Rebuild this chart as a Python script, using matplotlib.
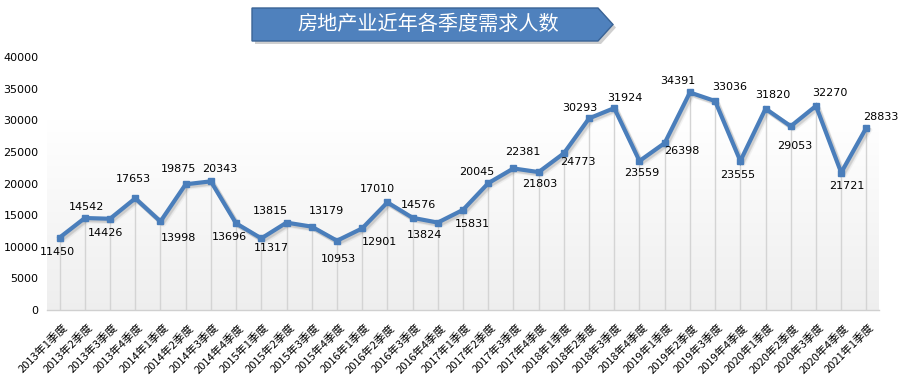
import numpy as np
import matplotlib
matplotlib.use("Agg")
import matplotlib.pyplot as plt
from matplotlib.patches import Polygon
from matplotlib.transforms import ScaledTranslation, offset_copy

# ==============================
# DATA
# ==============================

title = "房地产业近年各季度需求人数"

years = [2013] * 4 + [2014] * 4 + [2015] * 4 + [2016] * 4 + [2017] * 4 \
    + [2018] * 4 + [2019] * 4 + [2020] * 4 + [2021]
quarters = [1, 2, 3, 4] * 8 + [1]
quarter_labels = [f"{y}年{q}季度" for y, q in zip(years, quarters)]

demand = [11450, 14542, 14426, 17653, 13998, 19875, 20343, 13696,
          11317, 13815, 13179, 10953, 12901, 17010, 14576, 13824,
          15831, 20045, 22381, 21803, 24773, 30293, 31924, 23559,
          26398, 34391, 33036, 23555, 31820, 29053, 32270, 21721,
          28833]

# label offsets in pixels (dx, dy), dy positive = up
label_offsets = [(-2, -14), (2, 11), (-5, -14), (-2, 19), (18, -17), (-7, 15),
                 (9, 12), (-7, -14), (10, -10), (-16, 12), (15, 16), (1, -18),
                 (17, -14), (-10, 13), (6, 13), (-13, -12), (9, -14), (-11, 11),
                 (9, 16), (1, -12), (14, -9), (-9, 10), (11, 10), (2, -12),
                 (17, -8), (-12, 11), (15, 14), (-3, -14), (7, 14), (4, -20),
                 (14, 13), (6, -13), (14, 11)]

# ==============================
# FIGURE
# ==============================

W, H = 902, 381
fig = plt.figure(figsize=(W / 100, H / 100), dpi=100)
fig.patch.set_facecolor("white")

ax = fig.add_axes([47 / W, 71 / H, 832 / W, 253 / H])
x = np.arange(len(demand))

ax.set_xlim(-0.5, len(demand) - 0.5)
ax.set_ylim(0, 40000)

# gradient background
grad = np.linspace(0, 1, 256).reshape(-1, 1)
top = np.array([1.0, 1.0, 1.0])
bot = np.array([0.935, 0.935, 0.935])
w = np.clip((grad - 0.25) / 0.75, 0, 1)
img = (top + (bot - top) * w).reshape(256, 1, 3)
ax.imshow(img, extent=[-0.5, len(demand) - 0.5, 0, 40000], aspect="auto",
          zorder=0, origin="upper")
ax.set_facecolor("white")

ax.vlines(x, 0, demand, color="#d4d4d4", lw=1, zorder=1)

# soft shadow under the line
for k, a in [(3, 0.07), (2, 0.12), (1.5, 0.12)]:
    sh = offset_copy(ax.transData, fig=fig, x=k, y=-k, units="dots")
    ax.plot(x, demand, color="#606060", lw=3.5, alpha=a, transform=sh,
            zorder=2, solid_joinstyle="round")

ax.plot(x, demand, color="#4a7ebb", lw=3, marker="s", markersize=4.5,
        zorder=3, solid_joinstyle="miter")

for xi, v, (dx, dy) in zip(x, demand, label_offsets):
    ax.annotate(str(v), (xi, v), xytext=(dx, dy), textcoords="offset pixels",
                ha="center", va="center", fontsize=8, color="black",
                family="DejaVu Sans", zorder=4)

for s in ["top", "right", "left"]:
    ax.spines[s].set_visible(False)
ax.spines["bottom"].set_color("#d0d0d0")
ax.spines["bottom"].set_linewidth(1)

ax.set_yticks(range(0, 40001, 5000))
ax.tick_params(axis="y", length=0, pad=6, labelsize=8)
ax.set_xticks(x)
ax.set_xticklabels(quarter_labels, rotation=45, ha="right", va="center",
                   rotation_mode="anchor", fontsize=8,
                   family=["Noto Sans CJK SC", "DejaVu Sans"])
ax.tick_params(axis="x", length=0, pad=0)
offset = ScaledTranslation(6 / 100, -16 / 100, fig.dpi_scale_trans)
for lbl in ax.get_xticklabels():
    lbl.set_transform(lbl.get_transform() + offset)

# ==============================
# TITLE BANNER
# ==============================

pts = [(252, 8), (598, 8), (613, 24.5), (598, 41), (252, 41)]
fig_pts = [(px / W, 1 - py / H) for px, py in pts]
shadow_pts = [(px + 3 / W, py - 3 / H) for px, py in fig_pts]
fig.patches.append(Polygon(shadow_pts, closed=True, transform=fig.transFigure,
                           facecolor="#a0a0a0", edgecolor="none", alpha=0.5))
fig.patches.append(Polygon(fig_pts, closed=True, transform=fig.transFigure,
                           facecolor="#4f81bd", edgecolor="#3a6395", lw=1))
fig.text(428 / W, 1 - 24.5 / H, title, color="white", fontsize=14.5,
         ha="center", va="center", family=["Noto Sans CJK SC", "DejaVu Sans"])

fig.savefig("out.png", dpi=100)
